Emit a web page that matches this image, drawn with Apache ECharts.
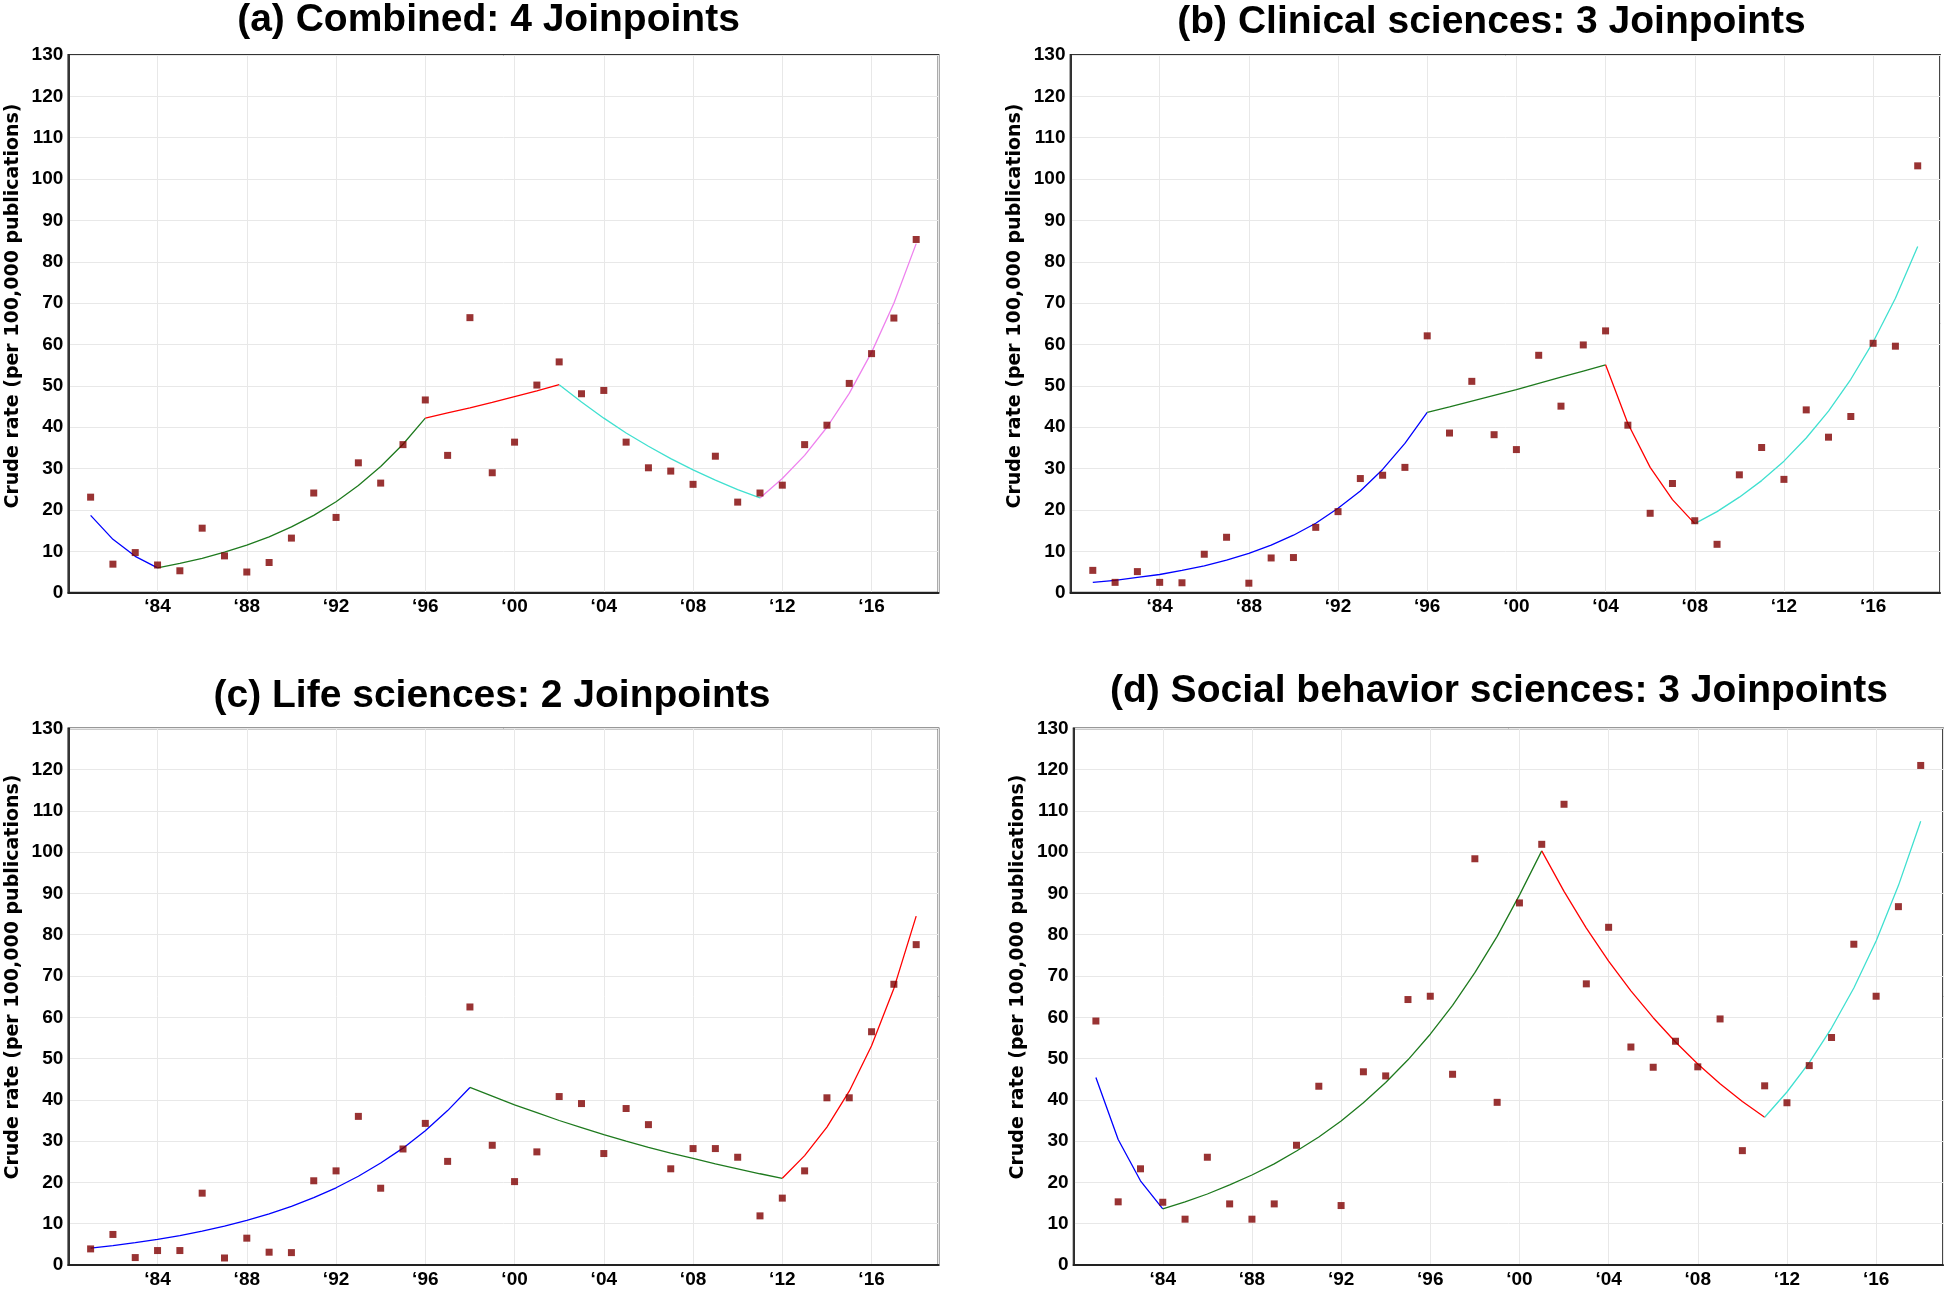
<!DOCTYPE html>
<html><head><meta charset="utf-8">
<script src="https://cdn.jsdelivr.net/npm/echarts@6/dist/echarts.min.js"></script>
<style>html,body{margin:0;padding:0;background:#fff}#c{width:1946px;height:1291px}</style>
</head><body><div id="c"></div>
<script>
const years = [1981,1982,1983,1984,1985,1986,1987,1988,1989,1990,1991,1992,1993,1994,1995,1996,1997,1998,1999,2000,2001,2002,2003,2004,2005,2006,2007,2008,2009,2010,2011,2012,2013,2014,2015,2016,2017,2018];
const titles = ['(a) Combined: 4 Joinpoints','(b) Clinical sciences: 3 Joinpoints','(c) Life sciences: 2 Joinpoints','(d) Social behavior sciences: 3 Joinpoints'];
const yAxisName = 'Crude rate (per 100,000 publications)';

// observed crude rates
const obsA = [23.1,6.9,9.7,6.7,5.3,15.6,8.9,5.0,7.3,13.2, 24.1,18.2,31.4,26.5,35.8,46.6,33.2,66.5,29.0,36.4, 50.2,55.8,48.1,48.9,36.4,30.2,29.4,26.2,33.0,21.9, 24.1,26.0,35.8,40.5,50.6,57.8,66.4,85.4];
const obsB = [5.4,2.5,5.1,2.5,2.4,9.3,13.4,2.3,8.4,8.5, 15.8,19.6,27.6,28.4,30.3,62.1,38.6,51.1,38.2,34.6, 57.4,45.1,59.9,63.3,40.5,19.2,26.4,17.4,11.7,28.5, 35.1,27.4,44.2,37.6,42.6,60.3,59.6,103.2];
const obsC = [3.9,7.4,1.8,3.5,3.5,17.4,1.7,6.5,3.1,3.0, 20.4,22.8,36.0,18.6,28.1,34.3,25.1,62.5,29.0,20.2, 27.4,40.8,39.1,27.0,37.9,34.0,23.3,28.2,28.2,26.1, 11.9,16.2,22.8,40.5,40.5,56.5,68.0,77.6];
const obsD = [59.1,15.3,23.3,15.2,11.1,26.1,14.8,11.1,14.8,29.0, 43.3,14.4,46.8,45.8,64.3,65.1,46.2,98.4,39.4,87.7, 101.9,111.6,68.1,81.8,52.8,47.9,54.2,48.0,59.6,27.7, 43.4,39.3,48.3,55.1,77.7,65.1,86.8,121.0];

// fitted (joinpoint model) values
const fitA = [18.7,12.9,8.8,6.0,7.1,8.3,9.8,11.5,13.5,15.9, 18.7,22.0,25.9,30.5,35.9,42.2,43.5,44.7,46.0,47.4, 48.8,50.3,46.1,42.2,38.6,35.4,32.4,29.7,27.2,24.9, 22.9,27.6,33.2,40.0,48.2,58.1,70.0,84.4];
const fitB = [2.5,3.0,3.7,4.4,5.4,6.5,7.9,9.5,11.5,13.9, 16.8,20.4,24.6,29.8,36.1,43.6,44.9,46.3,47.7,49.1, 50.6,52.1,53.6,55.1,40.9,30.3,22.5,16.7,19.6,23.1, 27.1,31.8,37.4,43.9,51.6,60.6,71.2,83.7];
const fitC = [4.1,4.7,5.4,6.2,7.1,8.2,9.4,10.8,12.4,14.2, 16.3,18.7,21.5,24.7,28.3,32.5,37.4,43.0,40.9,38.8, 36.9,35.0,33.3,31.6,30.0,28.5,27.1,25.8,24.5,23.3, 22.1,21.0,26.5,33.4,42.1,53.1,67.0,84.5];
const fitD = [45.4,30.4,20.4,13.6,15.3,17.2,19.4,21.8,24.5,27.6, 31.0,34.9,39.3,44.2,49.7,55.9,62.9,70.8,79.6,89.6, 100.3,90.5,81.6,73.6,66.4,59.9,54.0,48.7,43.9,39.6, 35.8,41.9,49.0,57.4,67.1,78.5,91.9,107.5];

// joinpoints (segment boundaries)
const joinsA = [1981,1984,1996,2002,2011,2018];
const joinsB = [1981,1996,2004,2008,2018];
const joinsC = [1981,1998,2012,2018];
const joinsD = [1981,1984,2001,2011,2018];

const segColors = ['#0000ff','#1e7a1e','#ff0000','#40e0d0','#ee82ee'];
const boldFont = '"Liberation Sans", Arial, Helvetica, sans-serif';

const panels = [
  {obs:obsA, fit:fitA, joins:joinsA, title:titles[0], grid:{left:68.3, top:55, width:870.2, height:537.7}, tx:488.5, tt:1, nx:13, ny:306},
  {obs:obsB, fit:fitB, joins:joinsB, title:titles[1], grid:{left:1070.5, top:55, width:869.5, height:537.7}, tx:1491.5, tt:3, nx:1015, ny:306},
  {obs:obsC, fit:fitC, joins:joinsC, title:titles[2], grid:{left:68.3, top:728.3, width:870.2, height:536.7}, tx:492, tt:677, nx:13, ny:977},
  {obs:obsD, fit:fitD, joins:joinsD, title:titles[3], grid:{left:1073.6, top:728.3, width:869.4, height:536.7}, tx:1499, tt:672, nx:1018, ny:977}
];

const option = {animation:false, backgroundColor:'#fff', title:[], grid:[], xAxis:[], yAxis:[], series:[], graphic:[]};
panels.forEach((p, i) => {
  option.title.push({text:p.title, left:p.tx, top:p.tt, textAlign:'center', padding:0,
    textStyle:{fontFamily:boldFont, fontWeight:'bold', fontSize:39, color:'#000'}});
  option.grid.push(Object.assign({show:true, borderColor:'#333', borderWidth:1.8, backgroundColor:'transparent'}, p.grid));
  option.xAxis.push({type:'value', gridIndex:i, min:1980, max:2019, interval:4,
    axisLine:{show:true, onZero:false, lineStyle:{color:'#222', width:1.8}},
    axisTick:{show:false},
    splitLine:{show:true, lineStyle:{color:'#e8e8e8', width:1}},
    axisLabel:{color:'#000', fontFamily:boldFont, fontWeight:'bold', fontSize:19, margin:5,
      formatter: v => (v === 1980 || v % 4 !== 0) ? '' : '\u2018' + String(v).slice(2)}});
  option.yAxis.push({type:'value', gridIndex:i, min:0, max:130, interval:10,
    axisLine:{show:true, lineStyle:{color:'#222', width:1.8}},
    axisTick:{show:false},
    splitLine:{show:true, lineStyle:{color:'#e8e8e8', width:1}},
    axisLabel:{color:'#000', fontFamily:boldFont, fontWeight:'bold', fontSize:19, margin:5}});
  for (let k = 0; k < p.joins.length - 1; k++) {
    const data = [];
    years.forEach((y, j) => { if (y >= p.joins[k] && y <= p.joins[k+1]) data.push([y, p.fit[j]]); });
    option.series.push({type:'line', xAxisIndex:i, yAxisIndex:i, data, symbol:'none', showSymbol:false,
      lineStyle:{color:segColors[k], width:1.3}, itemStyle:{color:segColors[k]}, silent:true, z:2});
  }
  option.series.push({type:'scatter', xAxisIndex:i, yAxisIndex:i, data: years.map((y, j) => [y, p.obs[j]]),
    symbol:'rect', symbolSize:[7,7], itemStyle:{color:'#800000'}, silent:true, z:3});
  option.graphic.push({type:'text', x:p.nx, y:p.ny, rotation:Math.PI/2,
    style:{text:yAxisName, font:'bold 19px "DejaVu Sans", Verdana, sans-serif', fill:'#000',
      align:'center', verticalAlign:'middle', textAlign:'center', textVerticalAlign:'middle'}});
});

const chart = echarts.init(document.getElementById('c'), null, {renderer:'canvas'});
chart.setOption(option);
</script>
</body></html>
